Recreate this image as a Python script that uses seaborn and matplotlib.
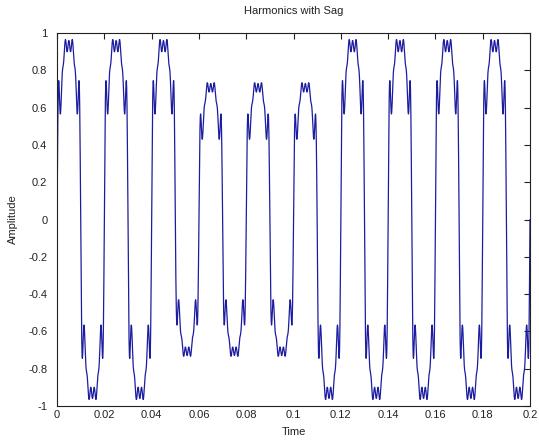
import numpy as np
import pandas as pd
import matplotlib
matplotlib.use("Agg")
import matplotlib.pyplot as plt
import seaborn as sns

# Signal description
fundamental_hz = 50.0
harmonic_orders = [1, 3, 5, 7, 9, 11, 13]
harmonic_amps = [1.0816, 0.1953, 0.1080, 0.1311, 0.1076, 0.0700, 0.0587]
sag_start, sag_end = 0.05, 0.11
sag_depth = 0.76
t_start, t_end, fs = 0.0, 0.2, 20000

x_ticks = [0, 0.02, 0.04, 0.06, 0.08, 0.1, 0.12, 0.14, 0.16, 0.18, 0.2]
x_labels = ["0", "0.02", "0.04", "0.06", "0.08", "0.1", "0.12", "0.14", "0.16", "0.18", "0.2"]
y_ticks = [-1, -0.8, -0.6, -0.4, -0.2, 0, 0.2, 0.4, 0.6, 0.8, 1]
y_labels = ["-1", "-0.8", "-0.6", "-0.4", "-0.2", "0", "0.2", "0.4", "0.6", "0.8", "1"]

t = np.linspace(t_start, t_end, int((t_end - t_start) * fs) + 1)
wave = np.zeros_like(t)
for n, a in zip(harmonic_orders, harmonic_amps):
    wave += a * np.sin(2 * np.pi * n * fundamental_hz * t)
env = np.where((t >= sag_start) & (t < sag_end), sag_depth, 1.0)
df = pd.DataFrame({"Time": t, "Amplitude": wave * env})

sns.set_style("white")
plt.rcParams["font.family"] = ["Liberation Sans", "DejaVu Sans"]
plt.rcParams["xtick.direction"] = "in"
plt.rcParams["ytick.direction"] = "in"

fig = plt.figure(figsize=(5.39, 4.43), dpi=100)
ax = fig.add_axes([0.1058, 0.0835, 0.8775, 0.842])
sns.lineplot(data=df, x="Time", y="Amplitude", ax=ax, color="#1c1ca0",
             linewidth=0.9, estimator=None, sort=False)

ax.set_xlim(0, 0.2)
ax.set_ylim(-1, 1)
ax.set_xticks(x_ticks)
ax.set_xticklabels(x_labels)
ax.set_yticks(y_ticks)
ax.set_yticklabels(y_labels)
ax.tick_params(axis="both", which="both", direction="in", length=4, width=0.8,
               labelsize=8, colors="#222222", top=True, right=True)
ax.tick_params(axis="x", pad=3)
ax.tick_params(axis="y", pad=7)
for s in ax.spines.values():
    s.set_visible(True)
    s.set_color("#222222")
    s.set_linewidth(0.8)
ax.set_xlabel("Time", fontsize=8, labelpad=5, color="#222222")
ax.set_ylabel("Amplitude", fontsize=8, labelpad=7, color="#222222")
ax.set_title("Harmonics with Sag", fontsize=8, pad=14, color="#222222")

fig.savefig("out.png", dpi=100, facecolor="white")
